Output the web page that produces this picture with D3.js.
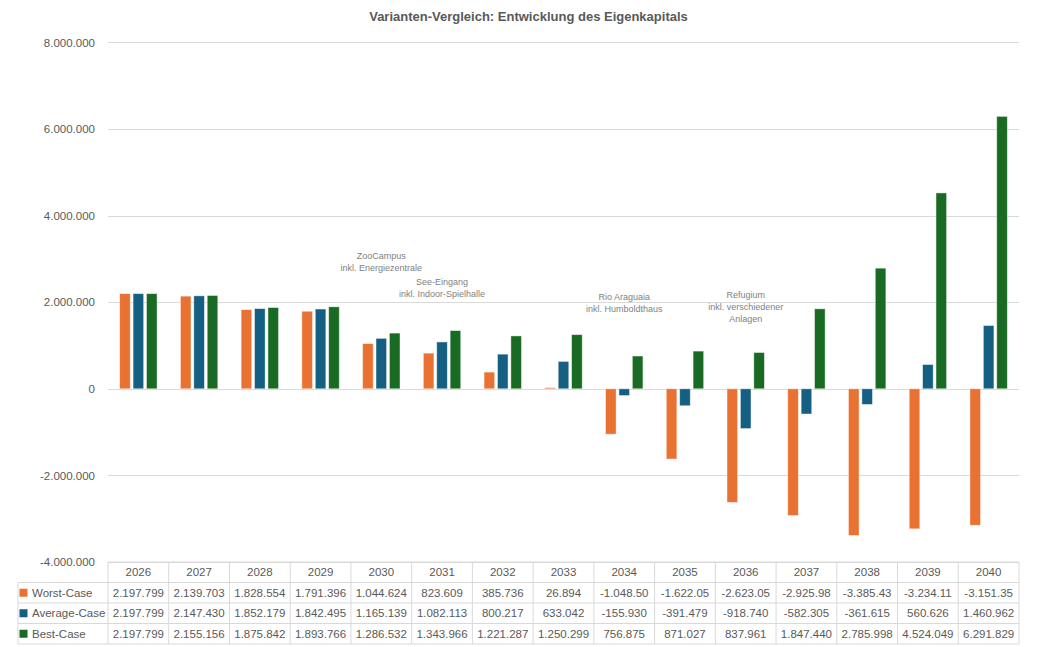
<!DOCTYPE html>
<html>
<head>
<meta charset="utf-8">
<script src="https://cdn.jsdelivr.net/npm/d3@7"></script>
<style>
  body { margin: 0; background: #fff; }
  text { font-family: "Liberation Sans", Arial, sans-serif; }
</style>
</head>
<body>
<div id="container"></div>
<script>
var years = ["2026", "2027", "2028", "2029", "2030", "2031", "2032", "2033",
             "2034", "2035", "2036", "2037", "2038", "2039", "2040"];
var seriesNames = ["Worst-Case", "Average-Case", "Best-Case"];
var worstCase = [2197799, 2139703, 1828554, 1791396, 1044624, 823609, 385736, 26894,
                 -1048504, -1622054, -2623054, -2925984, -3385434, -3234114, -3151354];
var averageCase = [2197799, 2147430, 1852179, 1842495, 1165139, 1082113, 800217, 633042,
                   -155930, -391479, -918740, -582305, -361615, 560626, 1460962];
var bestCase = [2197799, 2155156, 1875842, 1893766, 1286532, 1343966, 1221287, 1250299,
                756875, 871027, 837961, 1847440, 2785998, 4524049, 6291829];
var yTicks = [-4000000, -2000000, 0, 2000000, 4000000, 6000000, 8000000];
// Beschriftungen: Jahr, Zeilen, Hoehe (in Euro-Einheiten der y-Achse)
var notes = [
  { year: "2030", lines: ["ZooCampus", "inkl. Energiezentrale"], level: 3000000 },
  { year: "2031", lines: ["See-Eingang", "inkl. Indoor-Spielhalle"], level: 2400000 },
  { year: "2034", lines: ["Rio Araguaia", "inkl. Humboldthaus"], level: 2060000 },
  { year: "2036", lines: ["Refugium", "inkl. verschiedener", "Anlagen"], level: 2100000 }
];

var seriesValues = [worstCase, averageCase, bestCase];
var colors = ["#E97132", "#156082", "#196B24"];

var width = 1053, height = 647;
var plotLeft = 108, plotRight = 1019, plotTop = 42.4, plotBottom = 562;
var rowH = 20.5, legendLeft = 18;

var de = d3.formatLocale({ decimal: ",", thousands: ".", grouping: [3], currency: ["", " €"], minus: "-" });
var fmt = de.format(",d");

var svg = d3.select("#container").append("svg")
    .attr("width", width)
    .attr("height", height);

var x = d3.scaleBand().domain(years).range([plotLeft, plotRight]).paddingInner(0).paddingOuter(0);
var xs = d3.scaleBand().domain(seriesNames).range([0, x.bandwidth()])
    .paddingInner(0.21).paddingOuter(0.87);
var y = d3.scaleLinear().domain([-4000000, 8000000]).range([plotBottom, plotTop]);

// Titel
svg.append("text")
    .attr("x", (plotLeft + plotRight) / 2 - 35)
    .attr("y", 21)
    .attr("text-anchor", "middle")
    .attr("font-size", "13px")
    .attr("font-weight", "bold")
    .attr("fill", "#595959")
    .text("Varianten-Vergleich: Entwicklung des Eigenkapitals");

// Gitterlinien
svg.append("g").selectAll("line")
    .data(yTicks).enter().append("line")
    .attr("x1", plotLeft).attr("x2", plotRight)
    .attr("y1", function(d) { return Math.round(y(d)) + 0.5; })
    .attr("y2", function(d) { return Math.round(y(d)) + 0.5; })
    .attr("stroke", "#D9D9D9")
    .attr("stroke-width", 1);

// y-Achse
var yAxis = svg.append("g")
    .attr("transform", "translate(" + (plotLeft - 13) + ",0)")
    .call(d3.axisLeft(y).tickValues(yTicks).tickSize(0).tickPadding(0).tickFormat(fmt));
yAxis.select(".domain").remove();
yAxis.selectAll("text")
    .attr("font-family", "'Liberation Sans', Arial, sans-serif")
    .attr("font-size", "11.5px")
    .attr("fill", "#595959");

// Balken
var groups = svg.append("g").selectAll("g")
    .data(seriesNames).enter().append("g")
    .attr("fill", function(d, i) { return colors[i]; });

groups.selectAll("rect")
    .data(function(d, i) {
      return years.map(function(yr, j) { return { year: yr, series: d, value: seriesValues[i][j] }; });
    })
    .enter().append("rect")
    .attr("x", function(d) { return x(d.year) + xs(d.series); })
    .attr("width", xs.bandwidth())
    .attr("y", function(d) { return y(Math.max(0, d.value)); })
    .attr("height", function(d) { return Math.abs(y(d.value) - y(0)); })
    .attr("stroke", "rgba(255,255,255,0.55)")
    .attr("stroke-width", 0.8);

// Anmerkungen
var noteG = svg.append("g").selectAll("text")
    .data(notes).enter().append("text")
    .attr("text-anchor", "middle")
    .attr("font-size", "9px")
    .attr("fill", "#7F7F7F")
    .attr("x", function(d) { return x(d.year) + x.bandwidth() / 2; })
    .attr("y", function(d) { return y(d.level); });
noteG.selectAll("tspan")
    .data(function(d) { return d.lines.map(function(l) { return { line: l, x: x(d.year) + x.bandwidth() / 2 }; }); })
    .enter().append("tspan")
    .attr("x", function(d) { return d.x; })
    .attr("dy", function(d, i) { return i === 0 ? 0 : 12.3; })
    .text(function(d) { return d.line; });

// Datentabelle
var table = svg.append("g");
var tableTop = plotBottom;
var gridColor = "#D9D9D9";

function hline(x1, x2, yy) {
  table.append("line").attr("x1", x1).attr("x2", x2).attr("y1", yy).attr("y2", yy)
    .attr("stroke", gridColor).attr("stroke-width", 1);
}
function vline(xx, y1, y2) {
  table.append("line").attr("x1", xx).attr("x2", xx).attr("y1", y1).attr("y2", y2)
    .attr("stroke", gridColor).attr("stroke-width", 1);
}

var tableBottom = tableTop + rowH * 4;
hline(plotLeft, plotRight, tableTop);
for (var r = 1; r <= 4; r++) hline(legendLeft, plotRight, tableTop + rowH * r);
vline(legendLeft, tableTop + rowH, tableBottom);
years.forEach(function(yr) { vline(x(yr), tableTop, tableBottom); });
vline(plotRight, tableTop, tableBottom);

table.selectAll(".hdr")
    .data(years).enter().append("text")
    .attr("class", "hdr")
    .attr("x", function(d) { return x(d) + x.bandwidth() / 2; })
    .attr("y", tableTop + rowH / 2 + 4)
    .attr("text-anchor", "middle")
    .attr("font-size", "11.5px")
    .attr("fill", "#595959")
    .text(function(d) { return d; });

seriesNames.forEach(function(name, i) {
  var rowY = tableTop + rowH * (i + 1);
  table.append("rect")
      .attr("x", legendLeft + 1.5).attr("y", rowY + rowH / 2 - 4)
      .attr("width", 8).attr("height", 8)
      .attr("fill", colors[i]);
  table.append("text")
      .attr("x", legendLeft + 14).attr("y", rowY + rowH / 2 + 4)
      .attr("font-size", "11.5px").attr("fill", "#595959")
      .text(name);
  table.selectAll(".v" + i)
      .data(seriesValues[i]).enter().append("text")
      .attr("class", "v" + i)
      .attr("x", function(d, j) { return x(years[j]) + x.bandwidth() / 2; })
      .attr("y", rowY + rowH / 2 + 4)
      .attr("text-anchor", "middle")
      .attr("font-size", "11.5px")
      .attr("fill", "#595959")
      .text(function(d) {
        var s = fmt(d);
        // zu lange Zahlen werden in der Zelle abgeschnitten
        return s.length > 9 ? s.slice(0, 9) : s;
      });
});
</script>
</body>
</html>
